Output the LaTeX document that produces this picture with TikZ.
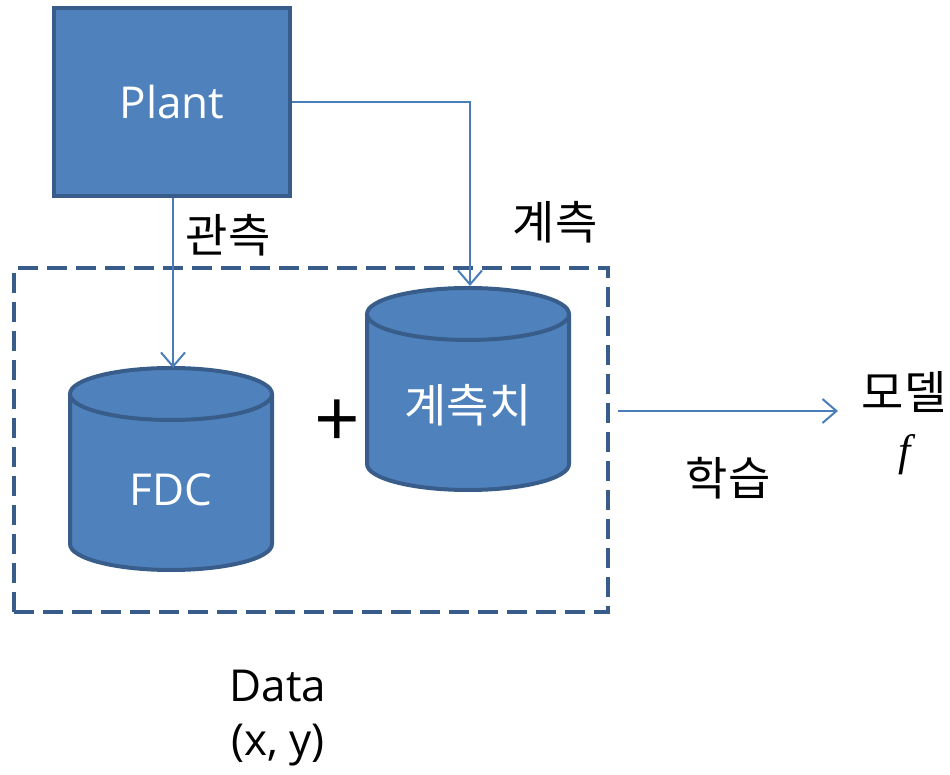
\documentclass[tikz,border=0pt]{standalone}
\usepackage{fontspec}
\setmainfont{Open Sans}
\newfontfamily\kr{Noto Sans CJK KR}
\newfontfamily\serifit{Liberation Serif}
\usetikzlibrary{arrows.meta, positioning}
\definecolor{boxfill}{HTML}{4F81BD}
\definecolor{boxline}{HTML}{385D8A}
\definecolor{linkline}{HTML}{4A7EBB}
\tikzstyle{arrow} = [line width=2pt, draw=linkline, -{Straight Barb[length=14pt,width=24pt]}]
\tikzstyle{drum} = [draw=boxline, fill=boxfill, line width=4pt]
\tikzstyle{kor} = [font=\fontsize{46}{54}\selectfont\kr]

\begin{document}
\begin{tikzpicture}[x=1pt, y=1pt, font=\fontsize{44}{52}\selectfont]
    \useasboundingbox (0,0) rectangle (950,774);
    \node (plant) [drum, minimum width=236, minimum height=188, text=white] at (172,672) {Plant};
    \node (dataset) [draw=boxline, line width=4.5pt, dash pattern=on 20pt off 9pt, minimum width=594, minimum height=344] at (311,334) {};
    % FDC drum
    \draw [drum] (70,380) -- (70,230) arc[start angle=180, end angle=360, x radius=101, y radius=26] -- (272,380);
    \draw [drum] (171,380) ellipse [x radius=101, y radius=26];
    \node (fdc) [text=white] at (171,284) {FDC};
    \coordinate (fdctop) at (173,406);
    % measurement drum
    \draw [drum] (367,460) -- (367,310) arc[start angle=180, end angle=360, x radius=101, y radius=26] -- (569,460);
    \draw [drum] (468,460) ellipse [x radius=101, y radius=26];
    \node (meas) [kor, text=white] at (468,369) {계측치};
    \coordinate (meastop) at (470,488);
    \node (plus) [font=\fontsize{80}{80}\selectfont] at (337,350) {+};
    \draw [arrow] (plant.south -| fdctop) -- (fdctop);
    \draw [arrow] (plant.east) -| (meastop);
    \node (obs) [kor] at (228,539) {관측};
    \node (msr) [kor] at (555,552) {계측};
    \coordinate (learnstart) at (618,363);
    \coordinate (modelin) at (838,363);
    \draw [arrow] (learnstart) -- (modelin);
    \node (learn) [kor] at (728,296) {학습};
    \node (model) [kor] at (904,382) {모델};
    \node (f) at (905,319) {\serifit\itshape f};
    \node (datalabel) at (278,88) {Data};
    \node (xy) at (278,29) {(x, y)};
\end{tikzpicture}
\end{document}
